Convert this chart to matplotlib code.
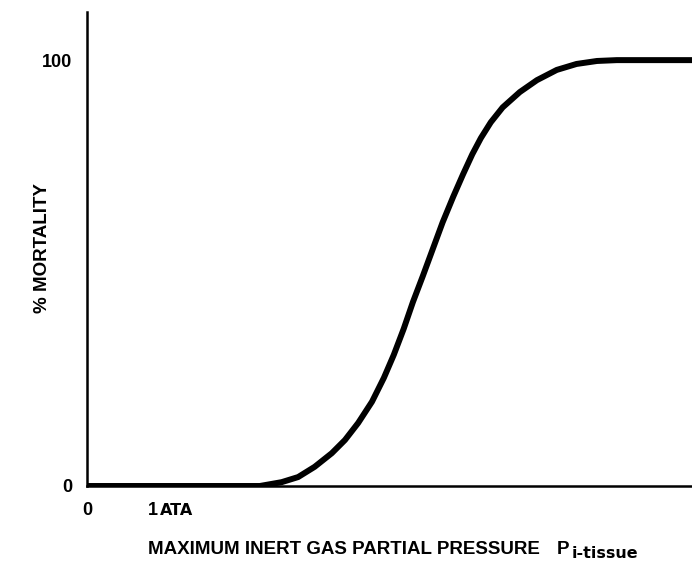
import numpy as np
import matplotlib
matplotlib.use("Agg")
import matplotlib.pyplot as plt

plt.rcParams['font.family'] = ['Liberation Sans', 'DejaVu Sans']
plt.rcParams['font.weight'] = 'bold'

# pressure in ATA, mortality in percent
pressure = [0.0, 2.62, 2.95, 3.20, 3.45, 3.71, 3.91, 4.11, 4.32, 4.50, 4.65,
            4.80, 4.94, 5.09, 5.24, 5.39, 5.55, 5.70, 5.84, 5.97, 6.12,
            6.30, 6.56, 6.82, 7.12, 7.42, 7.73, 8.03, 9.17]
mortality = [0.0, 0.0, 0.9, 2.1, 4.5, 7.7, 10.8, 14.8, 19.8, 25.4, 30.8,
             36.9, 43.2, 49.3, 55.6, 61.9, 67.9, 73.2, 77.9, 81.7, 85.4,
             88.9, 92.5, 95.3, 97.7, 99.1, 99.8, 100.0, 100.0]

x_ticks = [0, 1]
x_tick_labels = ['0', '1']
y_ticks = [0, 100]
y_tick_labels = ['0', '100']

W, H = 692, 561
fig = plt.figure(figsize=(W / 100, H / 100), dpi=100)
ax = fig.add_axes([87 / W, 1 - 486 / H, 1 - 87 / W, (486 - 12) / H])

ax.plot(pressure, mortality, color='black', linewidth=4.3,
        solid_capstyle='butt', solid_joinstyle='round')

ax.set_xlim(0, 9.17)
ax.set_ylim(0, 111.3)

for side in ['top', 'right']:
    ax.spines[side].set_visible(False)
for side in ['left', 'bottom']:
    ax.spines[side].set_linewidth(1.8)

ax.set_xticks(x_ticks)
ax.set_xticklabels(x_tick_labels, fontsize=13, fontweight='bold')
ax.set_yticks(y_ticks)
ax.set_yticklabels(y_tick_labels, fontsize=13, fontweight='bold')
ax.tick_params(axis='both', length=0)
ax.tick_params(axis='y', pad=10.5)
ax.tick_params(axis='x', pad=11.5)

# small caps "ATA" after the 1 tick
ax.annotate('ATA', xy=(1, 0), xycoords=('data', 'axes fraction'),
            xytext=(5, -21.0), textcoords='offset points',
            ha='left', va='baseline', fontsize=11.5, fontweight='bold',
            family='DejaVu Sans')

ax.set_ylabel('% MORTALITY', fontsize=13.5, fontweight='bold')
ax.yaxis.set_label_coords((51 - 87) / (W - 87), (486 - 248) / (486 - 12))

# x label written in pieces so the subscript can be sized like the original
fig.text(148 / W, 1 - 554 / H, 'MAXIMUM INERT GAS PARTIAL PRESSURE',
         fontsize=13.5, fontweight='bold', ha='left', va='baseline')
fig.text(557 / W, 1 - 554 / H, 'P', fontsize=13.5, fontweight='bold',
         ha='left', va='baseline')
fig.text(572 / W, 1 - 558 / H, 'i-tissue', fontsize=11.5, fontweight='bold',
         family='DejaVu Sans', ha='left', va='baseline')

fig.savefig('out.png', dpi=100)
